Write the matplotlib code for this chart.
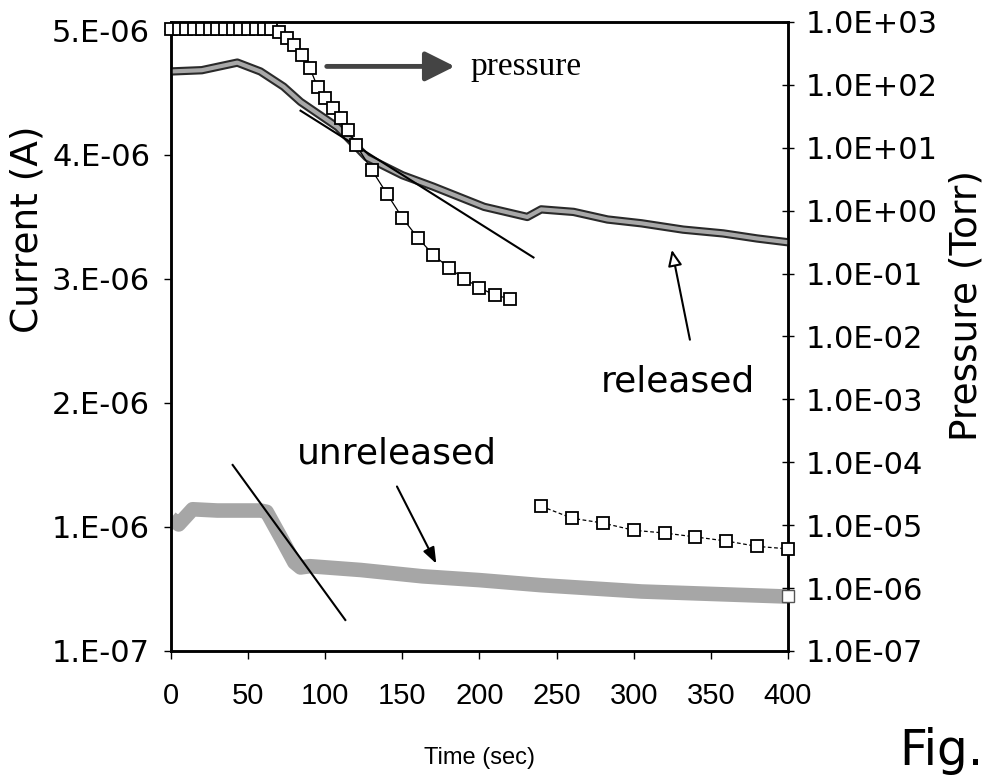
import numpy as np
import matplotlib
matplotlib.use("Agg")
import matplotlib.pyplot as plt
from matplotlib.ticker import FixedLocator, NullLocator

# --- data ---
t_released = [0, 20, 43, 58, 73, 84, 108, 127, 150, 170, 203, 231, 240, 261, 283, 305, 332, 358, 380, 400]
i_released = [4.68e-6, 4.69e-6, 4.75e-6, 4.68e-6, 4.56e-6, 4.44e-6, 4.24e-6, 4.00e-6, 3.86e-6, 3.77e-6,
              3.61e-6, 3.53e-6, 3.59e-6, 3.57e-6, 3.51e-6, 3.48e-6, 3.43e-6, 3.40e-6, 3.36e-6, 3.33e-6]

t_unreleased = [0, 5, 14, 30, 58, 62, 72, 80, 84, 90, 123, 163, 200, 240, 305, 400]
i_unreleased = [1.15e-6, 1.10e-6, 1.22e-6, 1.21e-6, 1.21e-6, 1.20e-6, 0.98e-6, 0.80e-6, 0.76e-6, 0.77e-6,
                0.74e-6, 0.69e-6, 0.66e-6, 0.62e-6, 0.57e-6, 0.53e-6]

t_pressure1 = [0, 5, 10, 15, 20, 25, 30, 35, 40, 45, 50, 55, 60, 65, 70, 75, 80, 85, 90, 95, 100,
               105, 110, 115, 120, 130, 140, 150, 160, 170, 180, 190, 200, 210, 220]
p_pressure1 = [760, 760, 760, 760, 760, 760, 760, 760, 760, 760, 760, 760, 760, 760, 690, 560, 430, 300,
               186, 93, 62, 43, 30, 19, 11.2, 4.5, 1.86, 0.77, 0.37, 0.20, 0.124, 0.083, 0.060, 0.045, 0.040]

t_pressure2 = [240, 260, 280, 300, 320, 340, 360, 380, 400]
p_pressure2 = [2.0e-5, 1.29e-5, 1.08e-5, 8.3e-6, 7.5e-6, 6.5e-6, 5.6e-6, 4.6e-6, 4.2e-6]

t_pressure_end = [400]
p_pressure_end = [7.5e-7]

# tangent lines
fit_rel_t = [84, 235]
fit_rel_i = [4.37e-6, 3.21e-6]
fit_unrel_t = [40, 113]
fit_unrel_i = [1.57e-6, 0.345e-6]

current_ticks = [1e-7, 1.08e-6, 2.06e-6, 3.04e-6, 4.02e-6, 5.0e-6]
current_labels = ["1.E-07", "1.E-06", "2.E-06", "3.E-06", "4.E-06", "5.E-06"]
pressure_ticks = [1e-7, 1e-6, 1e-5, 1e-4, 1e-3, 1e-2, 1e-1, 1e0, 1e1, 1e2, 1e3]
pressure_labels = ["1.0E-07", "1.0E-06", "1.0E-05", "1.0E-04", "1.0E-03", "1.0E-02",
                   "1.0E-01", "1.0E+00", "1.0E+01", "1.0E+02", "1.0E+03"]
time_ticks = [0, 50, 100, 150, 200, 250, 300, 350, 400]

arial = ["Liberation Sans", "DejaVu Sans"]

fig = plt.figure(figsize=(9.86, 7.77), dpi=100)
ax = fig.add_axes([0.1734, 0.1622, 0.6258, 0.8095])
ax2 = ax.twinx()

# current traces
ax.plot(t_unreleased, i_unreleased, color="#a6a6a6", lw=10.5, solid_capstyle="butt", zorder=2)
ax.plot(t_released, i_released, color="#2a2a2a", lw=6, solid_capstyle="butt", zorder=3)
ax.plot(t_released, i_released, color="#a8a8a8", lw=3, solid_capstyle="butt", zorder=3)
ax.plot(fit_rel_t, fit_rel_i, color="black", lw=1.5, zorder=4)
ax.plot(fit_unrel_t, fit_unrel_i, color="black", lw=1.5, zorder=4)

ax.set_xlim(0, 400)
ax.set_ylim(1e-7, 5.071e-6)
ax.xaxis.set_major_locator(FixedLocator(time_ticks))
ax.set_xticklabels([str(v) for v in time_ticks], family=arial, fontsize=21)
ax.yaxis.set_major_locator(FixedLocator(current_ticks))
ax.set_yticklabels(current_labels, fontsize=22)
ax.tick_params(axis="x", direction="out", length=6, width=1, pad=16)
ax.tick_params(axis="y", direction="out", length=5, width=1, pad=10)

ax.set_ylabel("Current (A)", fontsize=27, va="center")
ax.yaxis.set_label_coords(-0.232, 0.67)
ax.set_xlabel("Time (sec)", family=arial, fontsize=17, va="center")
ax.xaxis.set_label_coords(0.5, -0.17)

# pressure
ax2.set_yscale("log")
ax2.plot(t_pressure1, p_pressure1, color="black", lw=0.9, marker="s", ms=8, mfc="white",
         mec="black", mew=1.3, clip_on=False, zorder=5)
ax2.plot(t_pressure2, p_pressure2, color="black", lw=0.9, ls=(0, (3, 2)), marker="s", ms=8,
         mfc="white", mec="black", mew=1.3, clip_on=False, zorder=5)
ax2.plot(t_pressure_end, p_pressure_end, ls="none", marker="s", ms=8, mfc="white",
         mec="#555555", mew=1.0, clip_on=False, zorder=5)
ax2.set_ylim(1e-7, 1e3)
ax2.yaxis.set_major_locator(FixedLocator(pressure_ticks))
ax2.yaxis.set_minor_locator(NullLocator())
ax2.set_yticklabels(pressure_labels, fontsize=22)
ax2.tick_params(axis="y", direction="inout", length=9, width=1, pad=8)
ax2.set_ylabel("Pressure (Torr)", fontsize=27, rotation=90, va="center")
ax2.yaxis.set_label_coords(1.29, 0.55)

for a in (ax, ax2):
    for s in a.spines.values():
        s.set_linewidth(1.8)

# annotations
ax.annotate("", xy=(184, 4.72e-6), xytext=(101, 4.72e-6),
            arrowprops=dict(arrowstyle="-|>,head_length=1.0,head_width=0.5", lw=3.5,
                            color="#444444", mutation_scale=18, shrinkA=0, shrinkB=0), zorder=6)
ax.text(194, 4.72e-6, "pressure", family=["Liberation Serif", "DejaVu Serif"], fontsize=24,
        va="center", ha="left")

ax.text(146.5, 1.66e-6, "unreleased", fontsize=26, ha="center", va="center")
ax.annotate("", xy=(172, 0.79e-6), xytext=(146.5, 1.40e-6),
            arrowprops=dict(arrowstyle="-|>,head_length=0.8,head_width=0.3", lw=1.5,
                            fc="black", ec="black", mutation_scale=12, shrinkA=0, shrinkB=0), zorder=6)

ax.text(328.6, 2.23e-6, "released", fontsize=26, ha="center", va="center")
ax.annotate("", xy=(324.7, 3.27e-6), xytext=(336.4, 2.56e-6),
            arrowprops=dict(arrowstyle="-|>,head_length=0.8,head_width=0.35", lw=1.5,
                            fc="white", ec="black", mutation_scale=12, shrinkA=0, shrinkB=0), zorder=6)

fig.text(0.912, 0.016, "Fig.", fontsize=35, ha="left", va="baseline")

fig.savefig("out.png", dpi=100)
